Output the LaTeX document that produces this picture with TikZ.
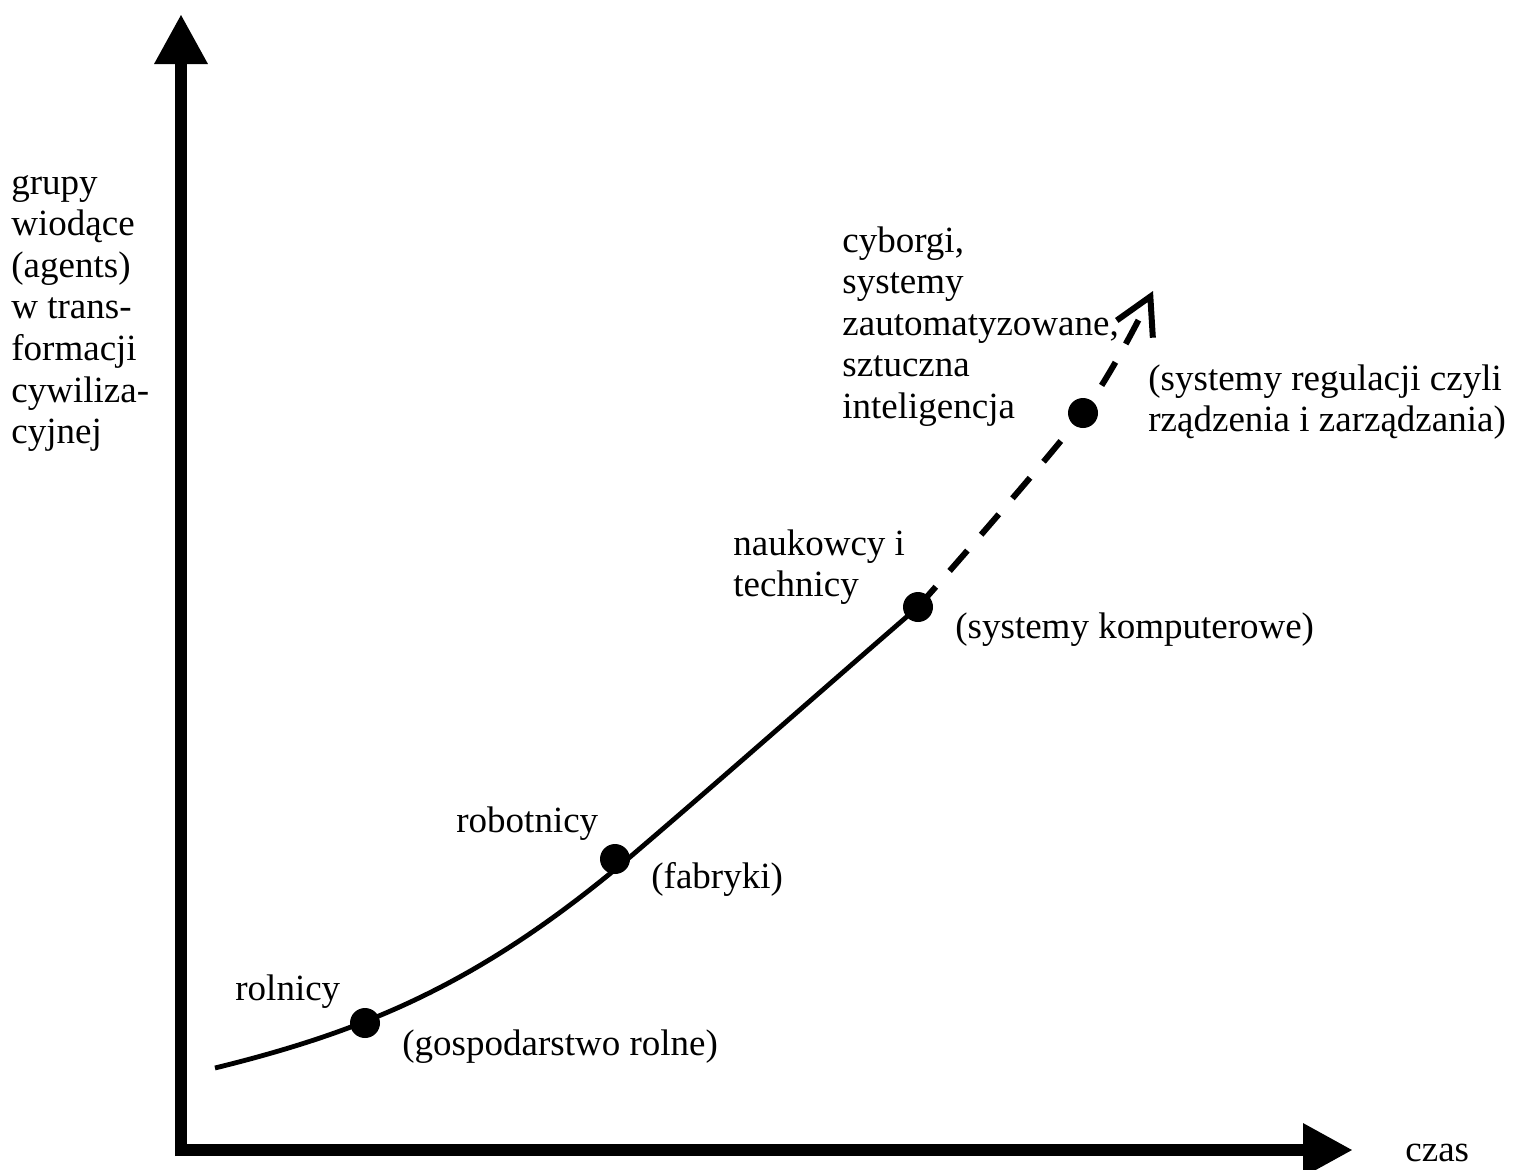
\documentclass[tikz,border=0pt]{standalone}
\usepackage{fontspec}
\setmainfont{Liberation Serif}
\usetikzlibrary{arrows.meta}
\begin{document}
\begin{tikzpicture}[x=0.5pt,y=-0.5pt,
  lbl/.style={inner sep=0pt,anchor=base west,align=left,font=\fontsize{18.5pt}{20.8pt}\selectfont},
  axis/.style={line width=6.3pt,-{Triangle[length=25pt,width=25pt]}},
  dot/.style={circle,fill=black,inner sep=0pt,minimum size=15pt},
  trend/.style={line width=2.4pt},
  future/.style={line width=3pt,dash pattern=on 13.5pt off 10.5pt,-{Straight Barb[length=18pt,width=20pt,line width=3pt]}}]
\useasboundingbox (0,0) rectangle (1522,1169);
\fill[white] (0,0) rectangle (1522,1169);

% axes
\coordinate (ytop) at (181,14);
\coordinate (xend) at (1353,1150);
\draw[axis] (181,1156) -- (ytop);
\draw[axis] (175,1150) -- (xend);

% stage markers
\node[dot] (d1) at (365,1023) {};
\node[dot] (d2) at (615,859) {};
\node[dot] (d3) at (918,607) {};
\node[dot] (d4) at (1083,413) {};

% course of the trend line
\coordinate (start) at (215,1068);
\coordinate (mid) at (630,857);
\coordinate (tip) at (1153,291);

\draw[trend] (start) .. controls (365,1031) and (480,984) .. (mid)
                     .. controls (726,775) and (822,690) .. (d3.center);
\draw[future] plot[smooth,tension=0.5] coordinates {(d3.center) (d4.center) (tip)};

% labels (anchored at the baseline of the last line)
\node[lbl] (ylab) at (11,443.6) {grupy\\wiodące\\(agents)\\w trans-\\formacji\\cywiliza-\\cyjnej};
\node[lbl] (xlab) at (1405,1161) {czas};
\node[lbl] (l1) at (235,1000) {rolnicy};
\node[lbl] (p1) at (402,1055) {(gospodarstwo rolne)};
\node[lbl] (l2) at (456,832) {robotnicy};
\node[lbl] (p2) at (651,888) {(fabryki)};
\node[lbl] (l3) at (733,596.6) {naukowcy i\\technicy};
\node[lbl] (p3) at (955,638) {(systemy komputerowe)};
\node[lbl] (l4) at (842,418.4) {cyborgi,\\systemy\\zautomatyzowane,\\sztuczna\\inteligencja};
\node[lbl] (p4) at (1148,431.6) {(systemy regulacji czyli\\rządzenia i zarządzania)};
\end{tikzpicture}
\end{document}
